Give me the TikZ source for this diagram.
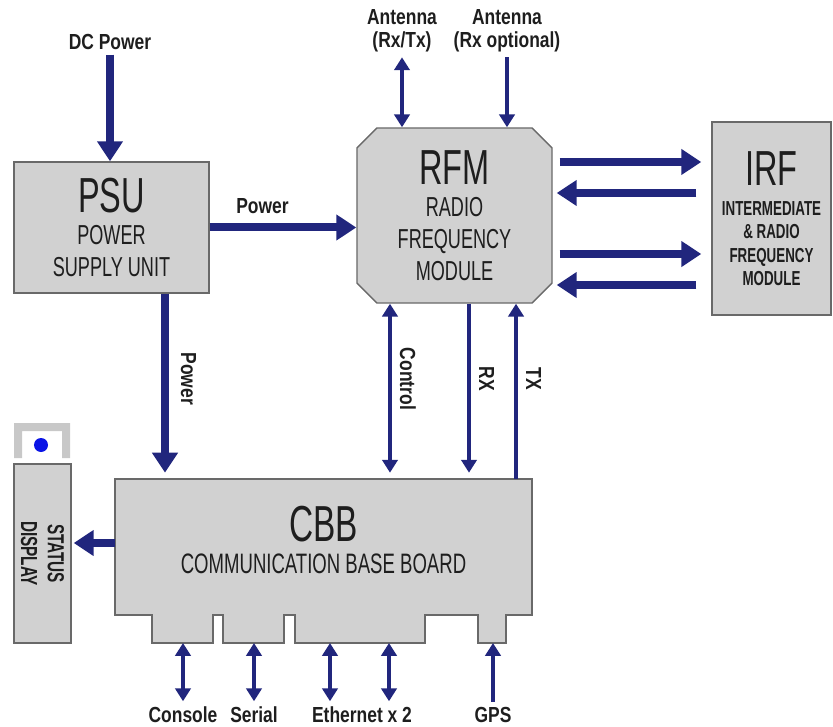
\documentclass[tikz,border=0pt]{standalone}
\usepackage{fontspec}
\setmainfont{Liberation Sans}[FakeStretch=0.66]
\newfontfamily\tagfamily{Liberation Sans}[FakeStretch=0.8]
\usetikzlibrary{arrows.meta,positioning,shapes.misc}
\definecolor{arrowblue}{RGB}{33,38,125}
\definecolor{boxgrey}{RGB}{209,209,209}
\definecolor{edgegrey}{RGB}{105,105,105}
\definecolor{ledgrey}{RGB}{200,200,200}
\definecolor{ledblue}{RGB}{10,20,230}
\definecolor{inkblack}{RGB}{30,30,30}

\begin{document}
\begin{tikzpicture}[
    x=0.025cm, y=-0.025cm,
    block/.style={rectangle, draw=edgegrey, fill=boxgrey, line width=1pt, align=center,
                  text=inkblack, inner sep=0pt, font=\fontsize{19.5}{22.8}\selectfont},
    tagtext/.style={font=\tagfamily\bfseries\fontsize{15.5}{16.5}\selectfont, text=inkblack, align=center},
    sidetag/.style={tagtext, rotate=-90, anchor=south, inner ysep=0.2cm},
    bigarrow/.style={-{Triangle[length=0.5cm,width=0.62cm]}, line width=0.2cm, arrowblue},
    thinarrow/.style={-{Triangle[length=0.32cm,width=0.38cm]}, line width=0.1cm, arrowblue},
    thinboth/.style={thinarrow, {Triangle[length=0.32cm,width=0.38cm]}-{Triangle[length=0.32cm,width=0.38cm]}}
]
\useasboundingbox (0,0) rectangle (833,727);

% boxes
\node[block, minimum width=4.875cm, minimum height=3.275cm] (psu) at (111.5,227.5)
    {{\fontsize{35}{36}\selectfont PSU}\\ POWER\\ SUPPLY UNIT};
\node[block, chamfered rectangle, chamfered rectangle xsep=0.375cm,
      minimum width=4.875cm, minimum height=4.375cm] (rfm) at (454.5,215.5)
    {{\fontsize{35}{36}\selectfont RFM}\\ RADIO\\ FREQUENCY\\ MODULE};
\node[block, minimum width=2.975cm, minimum height=4.825cm,
      font=\bfseries\fontsize{14.4}{16.7}\selectfont] (irf) at (771.5,218.5)
    {{\mdseries\fontsize{35}{36}\selectfont IRF}\\[4.6pt] INTERMEDIATE\\ \& RADIO\\ FREQUENCY\\ MODULE};

% status display
\fill[ledgrey] (14,458) -- (14,423) -- (70,423) -- (70,458) -- (62,458) -- (62,431) -- (22,431) -- (22,458) -- cycle;
\node[circle, fill=ledblue, minimum size=0.35cm, inner sep=0pt] (led) at (41,445) {};
\node[block, minimum width=1.425cm, minimum height=4.475cm] (status) at (42.5,553.5) {};
\node[text=inkblack, align=center, rotate=-90, font=\bfseries\fontsize{16.5}{19}\selectfont] (statuslabel) at (status) {STATUS\\ DISPLAY};

% base board
\draw[draw=edgegrey, fill=boxgrey, line width=1pt] (115,479) -- (532,479) -- (532,615) -- (506,615)
    -- (506,643) -- (478,643) -- (478,615) -- (425,615) -- (425,643) -- (295,643) -- (295,615)
    -- (284,615) -- (284,643) -- (223,643) -- (223,615) -- (213,615) -- (213,643) -- (152,643)
    -- (152,615) -- (115,615) -- cycle;
\node[minimum width=10.425cm, minimum height=3.4cm, inner sep=0pt] (cbb) at (323.5,547) {};
\node[align=center, text=inkblack, font=\fontsize{20}{22.5}\selectfont] (cbblabel) at (323.5,540)
    {{\fontsize{36}{36}\selectfont CBB}\\ COMMUNICATION BASE BOARD};
\coordinate (cbbtabs) at (323.5,643);

% power
\node[tagtext] (dc) at (110,42) {DC Power};
\draw[bigarrow] (dc.south) -- (dc.south |- psu.north);
\draw[bigarrow] (psu.east) -- (psu.east -| rfm.west)
    node[tagtext, pos=0.36, above, yshift=0.12cm] {Power};
\draw[bigarrow, shorten >=0.15cm] ([xshift=1.3375cm]psu.south) -- ([xshift=1.3375cm]psu.south |- cbb.north)
    node[sidetag, pos=0.46, inner ysep=0.3cm] {Power};

% antennas
\node[tagtext] (antrx) at (402,31) {Antenna\\(Rx/Tx)};
\node[tagtext] (antopt) at (507,31) {Antenna\\(Rx optional)};
\draw[thinboth] (antrx.south) -- (antrx.south |- rfm.north);
\draw[thinarrow] (antopt.south) -- (antopt.south |- rfm.north);

% rfm <-> irf
\draw[bigarrow, shorten <=0.175cm, shorten >=0.25cm] ([yshift=1.3375cm]rfm.east) -- ([yshift=1.3375cm]rfm.east -| irf.west);
\draw[bigarrow, shorten <=0.375cm, shorten >=0.1cm] ([yshift=0.5625cm]rfm.east -| irf.west) -- ([yshift=0.5625cm]rfm.east);
\draw[bigarrow, shorten <=0.175cm, shorten >=0.25cm] ([yshift=-0.9625cm]rfm.east) -- ([yshift=-0.9625cm]rfm.east -| irf.west);
\draw[bigarrow, shorten <=0.375cm, shorten >=0.1cm] ([yshift=-1.7375cm]rfm.east -| irf.west) -- ([yshift=-1.7375cm]rfm.east);

% rfm <-> cbb
\draw[thinboth, shorten >=0.15cm] ([xshift=-1.6125cm]rfm.south) -- ([xshift=-1.6125cm]rfm.south |- cbb.north)
    node[sidetag, pos=0.43] {Control};
\draw[thinarrow, shorten >=0.15cm] ([xshift=0.3625cm]rfm.south) -- ([xshift=0.3625cm]rfm.south |- cbb.north)
    node[sidetag, pos=0.43] {RX};
\draw[thinarrow] ([xshift=1.5375cm]rfm.south |- cbb.north) -- ([xshift=1.5375cm]rfm.south)
    node[sidetag, pos=0.57] {TX};

% status output
\draw[bigarrow, shorten >=0.05cm] ([yshift=0.1cm]cbb.west) -- ([yshift=0.1cm]cbb.west -| status.east);

% interfaces
\node[tagtext, anchor=base] (console) at (183,722) {Console};
\node[tagtext, anchor=base] (serial) at (254,722) {Serial};
\node[tagtext, anchor=base] (ether) at (362,722) {Ethernet x 2};
\node[tagtext, anchor=base] (gps) at (493,722) {GPS};
\draw[thinboth] (console.north) -- (console.north |- cbbtabs);
\draw[thinboth] (serial.north) -- (serial.north |- cbbtabs);
\draw[thinboth] ([xshift=-0.8cm]ether.north) -- ([xshift=-0.8cm]ether.north |- cbbtabs);
\draw[thinboth] ([xshift=0.675cm]ether.north) -- ([xshift=0.675cm]ether.north |- cbbtabs);
\draw[thinarrow] (gps.north) -- (gps.north |- cbbtabs);
\end{tikzpicture}
\end{document}
